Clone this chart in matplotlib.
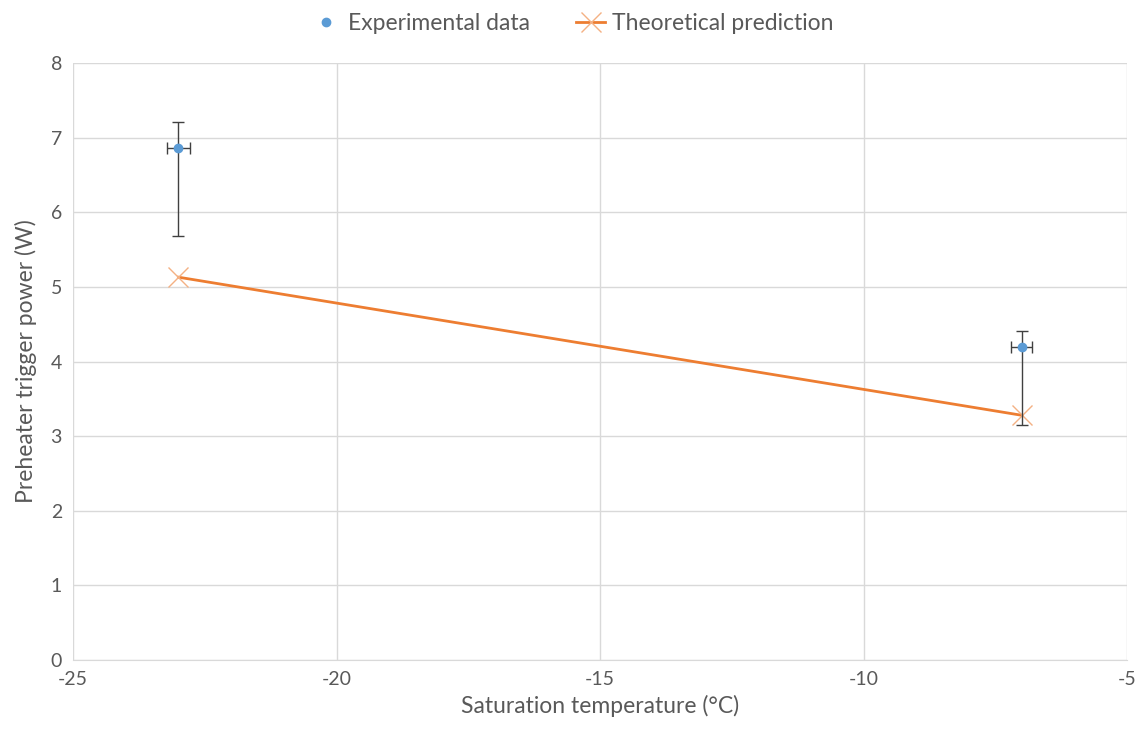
import matplotlib
matplotlib.use("Agg")
import matplotlib.pyplot as plt
from matplotlib.lines import Line2D

plt.rcParams['font.family'] = ['Lato', 'DejaVu Sans']
plt.rcParams['axes.unicode_minus'] = False

# Data
exp_temp = [-23, -7]
exp_power = [6.86, 4.19]
exp_err_low = [1.18, 1.04]
exp_err_high = [0.35, 0.22]
exp_xerr = [0.21, 0.2]
theo_temp = [-23, -7]
theo_power = [5.13, 3.28]

x_ticks = [-25, -20, -15, -10, -5]
y_ticks = [0, 1, 2, 3, 4, 5, 6, 7, 8]

text_color = '#595959'
blue = '#5B9BD5'
orange = '#ED7D31'

fig = plt.figure(figsize=(11.45, 7.4), dpi=100)
ax = fig.add_axes([0.0638, 0.108, 0.9205, 0.8069])

ax.plot(theo_temp, theo_power, color=orange, lw=2, marker='x', markersize=14,
        markeredgewidth=1.0, markeredgecolor='#F4B183', label='Theoretical prediction', zorder=3)
ax.errorbar(exp_temp, exp_power, yerr=[exp_err_low, exp_err_high], xerr=exp_xerr,
            fmt='o', color=blue, markersize=6, ecolor='#404040', elinewidth=1,
            capsize=4, capthick=1, label='Experimental data', zorder=4)

ax.set_xlim(-25, -5)
ax.set_ylim(0, 8)
ax.set_xticks(x_ticks)
ax.set_yticks(y_ticks)
ax.grid(True, color='#D9D9D9', lw=1)
ax.set_axisbelow(True)
for s in ['top', 'right', 'left']:
    ax.spines[s].set_visible(False)
ax.spines['bottom'].set_color('#D9D9D9')
ax.tick_params(length=0, colors=text_color, labelsize=14, pad=8)

ax.set_xlabel('Saturation temperature (°C)', fontsize=16.5, color=text_color, labelpad=5)
ax.set_ylabel('Preheater trigger power (W)', fontsize=16.5, color=text_color, labelpad=10)

h_exp = Line2D([], [], marker='o', color=blue, linestyle='none', markersize=6)
h_theo = Line2D([], [], marker='x', color=orange, lw=2, markeredgecolor='#F4B183', markersize=14)
leg = fig.legend([h_exp, h_theo], ['Experimental data', 'Theoretical prediction'],
                 loc='upper center', bbox_to_anchor=(0.5, 1.01), ncol=2, frameon=False,
                 fontsize=16.5, handlelength=1.3, columnspacing=2.0, handletextpad=0.3)
for t in leg.get_texts():
    t.set_color(text_color)

fig.savefig('out.png', dpi=100)
